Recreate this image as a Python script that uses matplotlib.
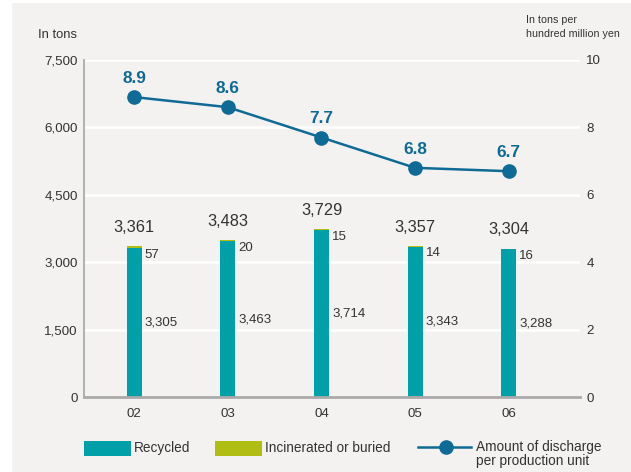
import matplotlib.pyplot as plt
from matplotlib.patches import Rectangle
from matplotlib.lines import Line2D

plt.rcParams['font.family'] = ['Liberation Sans', 'DejaVu Sans']

years = ["02", "03", "04", "05", "06"]
recycled = [3305, 3463, 3714, 3343, 3288]
incinerated = [57, 20, 15, 14, 16]
totals = [3361, 3483, 3729, 3357, 3304]
per_unit = [8.9, 8.6, 7.7, 6.8, 6.7]

teal = "#00a0a9"
olive = "#b0bd12"
blue = "#0f6a95"
text_c = "#333333"
bg = "#f3f2f0"

W, H = 631, 472
fig = plt.figure(figsize=(W / 100, H / 100), dpi=100)
fig.patch.set_facecolor("white")
fig.add_artist(Rectangle((12 / W, 0), 1, 1 - 3 / H, transform=fig.transFigure,
                         facecolor=bg, edgecolor="none", zorder=-10))

ax = fig.add_axes([84 / W, 75 / H, 496 / W, 337 / H])
ax.patch.set_alpha(0)
x = list(range(len(years)))

ax.bar(x, recycled, width=0.16, color=teal, zorder=3)
ax.bar(x, incinerated, width=0.16, bottom=recycled, color=olive, zorder=3)

for i in x:
    ax.text(i, totals[i] + 250, f"{totals[i]:,}", ha="center", va="bottom",
            fontsize=11.8, color=text_c)
    ax.text(i + 0.112, recycled[i] - 10, f"{incinerated[i]:,}", ha="left", va="top",
            fontsize=9.5, color=text_c)
    ax.text(i + 0.112, recycled[i] / 2, f"{recycled[i]:,}", ha="left", va="center",
            fontsize=9.5, color=text_c)

ax.set_xlim(-0.535, 4.76)
ax.set_ylim(0, 7500)
ax.set_yticks([0, 1500, 3000, 4500, 6000, 7500])
ax.set_yticklabels(["0", "1,500", "3,000", "4,500", "6,000", "7,500"])
ax.set_xticks(x)
ax.set_xticklabels(years)
ax.tick_params(length=0, labelsize=9.6, colors=text_c, pad=4.5)
ax.tick_params(axis="x", pad=8)
ax.grid(axis="y", color="white", linewidth=1.8, zorder=1)
for s in ["top", "right"]:
    ax.spines[s].set_visible(False)
ax.spines["left"].set_color("#aaaaaa")
ax.spines["left"].set_linewidth(1.3)
ax.spines["bottom"].set_color("#aaaaaa")
ax.spines["bottom"].set_linewidth(2)
ax.spines["left"].set_zorder(4)
ax.spines["bottom"].set_zorder(4)

ax2 = ax.twinx()
ax2.plot(x, per_unit, color=blue, linewidth=1.8, marker="o", markersize=9.5, zorder=5)
for i in x:
    ax2.text(i, per_unit[i] + 0.33, f"{per_unit[i]}", ha="center", va="bottom",
             fontsize=12.4, fontweight="bold", color=blue)
ax2.set_ylim(0, 10)
ax2.set_yticks([0, 2, 4, 6, 8, 10])
ax2.tick_params(length=0, labelsize=9.6, colors=text_c, pad=4.5)
for s in ax2.spines.values():
    s.set_visible(False)

fig.text(38 / W, 1 - 35 / H, "In tons", fontsize=9.4, color=text_c, va="center")
fig.text(526 / W, 1 - 27 / H, "In tons per\nhundred million yen", fontsize=7.7,
         color=text_c, va="center", linespacing=1.45)

# legend
ly = 1 - 448 / H
fig.add_artist(Rectangle((84 / W, 1 - 456 / H), 47 / W, 15 / H,
                         transform=fig.transFigure, facecolor=teal, edgecolor="none"))
fig.text(134 / W, ly, "Recycled", fontsize=9.8, color=text_c, va="center")
fig.add_artist(Rectangle((215 / W, 1 - 456 / H), 47 / W, 15 / H,
                         transform=fig.transFigure, facecolor=olive, edgecolor="none"))
fig.text(265 / W, ly, "Incinerated or buried", fontsize=9.8, color=text_c, va="center")
fig.add_artist(Line2D([418 / W, 471 / W], [1 - 447 / H] * 2, transform=fig.transFigure,
                      color=blue, linewidth=1.8))
fig.add_artist(Line2D([446 / W], [1 - 447 / H], transform=fig.transFigure, color=blue,
                      marker="o", markersize=9.5))
fig.text(476 / W, 1 - 453.5 / H, "Amount of discharge\nper production unit", fontsize=9.8,
         color=text_c, va="center", linespacing=1.0)

fig.savefig("out.png", dpi=100)
